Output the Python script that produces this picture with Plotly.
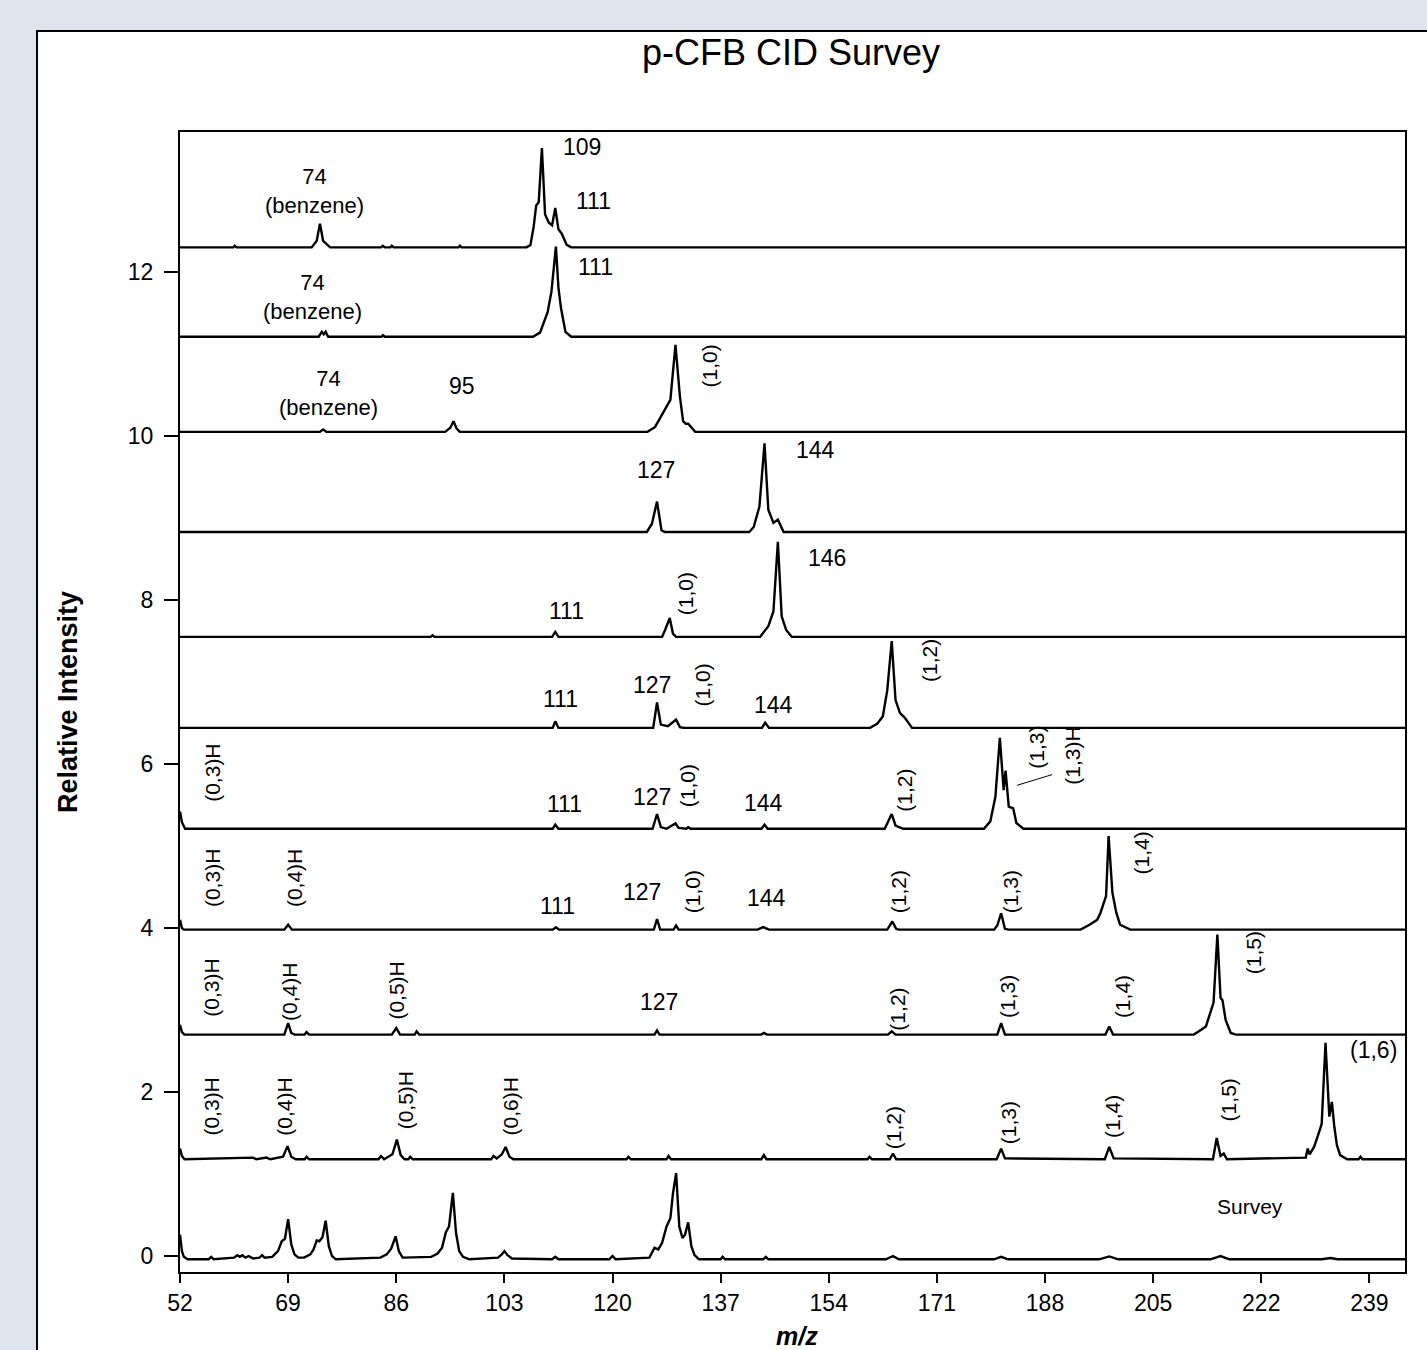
import plotly.graph_objects as go

# ---------------- data ----------------
x_ticks = [52, 69, 86, 103, 120, 137, 154, 171, 188, 205, 222, 239]
y_ticks = [0, 2, 4, 6, 8, 10, 12]

# baseline offset of each stacked spectrum (bottom -> top)
offsets = [-0.04, 1.18, 2.70, 3.98, 5.21, 6.44, 7.55, 8.83, 10.05, 11.21, 12.30]

# (m/z, relative intensity above the spectrum baseline)
survey = [(52.0, 0.30), (52.3, 0.10), (52.6, 0.03), (53.2, 0.0), (56.5, 0.0), (56.9, 0.03), (57.3, 0.0),
          (60.5, 0.02), (61.0, 0.05), (61.4, 0.03), (61.8, 0.05), (62.3, 0.02), (62.8, 0.04), (63.5, 0.01),
          (64.5, 0.02), (64.9, 0.05), (65.3, 0.02), (66.5, 0.03), (67.4, 0.10), (68.0, 0.22), (68.5, 0.25),
          (69.0, 0.49), (69.5, 0.18), (70.0, 0.06), (70.6, 0.02), (71.5, 0.02), (72.5, 0.06), (73.0, 0.12),
          (73.5, 0.23), (73.9, 0.22), (74.4, 0.27), (74.9, 0.47), (75.4, 0.16), (75.9, 0.04), (76.5, 0.0),
          (83.5, 0.02), (84.5, 0.06), (85.2, 0.13), (85.9, 0.28), (86.4, 0.10), (87.0, 0.02), (91.5, 0.03),
          (92.5, 0.07), (93.2, 0.14), (93.8, 0.33), (94.3, 0.40), (94.9, 0.81), (95.4, 0.32), (95.9, 0.10),
          (96.5, 0.03), (97.5, 0.0), (102.0, 0.02), (102.6, 0.06), (103.0, 0.10), (103.5, 0.05), (104.2, 0.01),
          (110.5, 0.0), (111.0, 0.03), (111.5, 0.0), (119.5, 0.0), (120.0, 0.04), (120.5, 0.0), (125.8, 0.02),
          (126.6, 0.14), (127.2, 0.12), (127.8, 0.20), (128.5, 0.40), (129.1, 0.50), (129.5, 0.80),
          (130.0, 1.05), (130.5, 0.40), (131.0, 0.26), (131.4, 0.30), (131.9, 0.45), (132.4, 0.16),
          (132.9, 0.05), (133.6, 0.0), (137.0, 0.0), (137.3, 0.03), (137.7, 0.0), (143.7, 0.0), (144.1, 0.03),
          (144.5, 0.0), (163.0, 0.0), (164.1, 0.04), (165.0, 0.0), (180.0, 0.0), (181.1, 0.03), (182.2, 0.0),
          (196.5, 0.0), (198.1, 0.035), (199.5, 0.0), (214.0, 0.0), (215.6, 0.04), (217.0, 0.0), (231.5, 0.0),
          (232.9, 0.015), (234.0, 0.0), (245.0, 0.0)]

spec_16 = [(52.0, 0.13), (52.3, 0.04), (52.7, 0.0), (63.5, 0.02), (64.0, 0.0), (65.6, 0.02), (66.2, 0.0),
           (68.2, 0.03), (68.9, 0.16), (69.5, 0.03), (70.2, 0.0), (71.6, 0.0), (71.9, 0.03), (72.3, 0.0),
           (83.2, 0.0), (83.6, 0.04), (84.1, 0.0), (85.4, 0.06), (86.1, 0.24), (86.7, 0.05), (87.3, 0.0),
           (87.9, 0.0), (88.2, 0.03), (88.6, 0.0), (100.9, 0.0), (101.3, 0.04), (101.8, 0.01), (102.6, 0.06),
           (103.2, 0.15), (103.8, 0.03), (104.4, 0.0), (122.2, 0.0), (122.5, 0.03), (122.9, 0.0), (128.5, 0.0),
           (128.8, 0.04), (129.2, 0.0), (143.4, 0.0), (143.8, 0.05), (144.2, 0.0), (160.1, 0.0), (160.4, 0.03),
           (160.8, 0.0), (163.6, 0.0), (164.1, 0.07), (164.6, 0.0), (180.4, 0.0), (181.1, 0.13), (181.7, 0.01),
           (197.4, 0.0), (198.1, 0.15), (198.8, 0.01), (214.4, 0.0), (215.0, 0.26), (215.6, 0.04), (216.1, 0.07),
           (216.6, 0.0), (229.0, 0.02), (229.3, 0.13), (229.6, 0.06), (230.3, 0.15), (230.8, 0.25), (231.0, 0.31),
           (231.5, 0.43), (232.1, 1.42), (232.7, 0.52), (233.1, 0.70), (233.5, 0.39), (233.9, 0.17), (234.4, 0.05),
           (235.5, 0.0), (237.3, 0.0), (237.6, 0.03), (237.9, 0.0), (245.0, 0.0)]

spec_15 = [(52.0, 0.12), (52.3, 0.03), (52.7, 0.0), (68.4, 0.0), (69.0, 0.14), (69.5, 0.02), (70.0, 0.0),
           (71.6, 0.0), (71.9, 0.03), (72.3, 0.0), (85.3, 0.0), (86.0, 0.08), (86.6, 0.0), (88.9, 0.0),
           (89.2, 0.04), (89.6, 0.0), (126.6, 0.0), (127.0, 0.05), (127.4, 0.0), (143.4, 0.0), (143.8, 0.02),
           (144.3, 0.0), (163.3, 0.0), (163.9, 0.04), (164.5, 0.0), (180.5, 0.0), (181.1, 0.14), (181.7, 0.0),
           (197.5, 0.0), (198.1, 0.10), (198.7, 0.0), (211.4, 0.0), (212.2, 0.04), (213.3, 0.10), (214.5, 0.39),
           (215.1, 1.22), (215.6, 0.45), (215.9, 0.42), (216.4, 0.18), (217.2, 0.02), (218.0, 0.0), (245.0, 0.0)]

spec_14 = [(52.0, 0.12), (52.3, 0.02), (52.6, 0.0), (68.4, 0.0), (69.0, 0.06), (69.6, 0.0), (110.6, 0.0),
           (111.1, 0.03), (111.6, 0.0), (126.5, 0.0), (127.0, 0.13), (127.5, 0.0), (129.6, 0.0), (130.0, 0.05),
           (130.4, 0.0), (142.8, 0.0), (143.7, 0.03), (144.6, 0.0), (163.2, 0.0), (164.0, 0.10), (164.6, 0.01),
           (165.0, 0.0), (180.0, 0.0), (180.5, 0.05), (181.1, 0.20), (181.7, 0.01), (182.3, 0.0), (193.6, 0.0),
           (195.0, 0.06), (196.2, 0.12), (196.7, 0.20), (197.6, 0.41), (198.0, 1.14), (198.6, 0.45), (199.2, 0.21),
           (199.8, 0.06), (201.4, 0.0), (245.0, 0.0)]

spec_13 = [(52.0, 0.21), (52.3, 0.08), (52.8, 0.0), (110.6, 0.0), (111.0, 0.05), (111.5, 0.0), (126.3, 0.0),
           (127.0, 0.18), (127.6, 0.02), (128.5, 0.0), (129.9, 0.065), (130.4, 0.01), (131.6, 0.0), (131.9, 0.02),
           (132.3, 0.0), (143.4, 0.0), (143.9, 0.05), (144.4, 0.0), (162.8, 0.0), (163.9, 0.18), (164.5, 0.04),
           (165.2, 0.02), (165.7, 0.0), (178.4, 0.0), (179.4, 0.09), (180.2, 0.39), (180.9, 1.11), (181.5, 0.47),
           (181.8, 0.71), (182.3, 0.27), (183.0, 0.25), (183.5, 0.07), (184.6, 0.0), (245.0, 0.0)]

spec_12 = [(52.0, 0.0), (110.6, 0.0), (111.0, 0.08), (111.5, 0.0), (126.4, 0.0), (127.0, 0.31), (127.6, 0.04),
           (128.7, 0.02), (130.0, 0.10), (130.6, 0.01), (131.2, 0.0), (143.5, 0.0), (144.0, 0.065), (144.6, 0.0),
           (160.5, 0.0), (161.6, 0.05), (162.5, 0.14), (163.2, 0.46), (163.9, 1.06), (164.5, 0.34), (165.2, 0.18),
           (165.9, 0.13), (167.1, 0.0), (245.0, 0.0)]

spec_146 = [(52.0, 0.0), (91.4, 0.0), (91.7, 0.02), (92.0, 0.0), (110.5, 0.0), (111.0, 0.06), (111.5, 0.0),
            (127.8, 0.0), (128.3, 0.09), (129.0, 0.23), (129.5, 0.04), (130.0, 0.0), (143.2, 0.0), (144.2, 0.10),
            (144.5, 0.13), (145.3, 0.31), (146.0, 1.16), (146.6, 0.25), (147.3, 0.085), (148.2, 0.0), (245.0, 0.0)]

spec_144 = [(52.0, 0.0), (125.4, 0.0), (126.2, 0.10), (127.0, 0.37), (127.7, 0.02), (128.2, 0.0), (141.5, 0.0),
            (142.2, 0.06), (143.1, 0.31), (143.9, 1.08), (144.5, 0.27), (145.3, 0.11), (146.0, 0.15), (146.9, 0.0),
            (245.0, 0.0)]

spec_10 = [(52.0, 0.0), (74.0, 0.0), (74.5, 0.03), (75.0, 0.0), (93.7, 0.0), (94.5, 0.05), (95.0, 0.13),
           (95.5, 0.04), (96.0, 0.0), (125.5, 0.0), (126.7, 0.06), (128.0, 0.23), (129.1, 0.39), (129.9, 1.06),
           (130.6, 0.43), (131.1, 0.13), (131.5, 0.10), (131.9, 0.10), (133.0, 0.0), (245.0, 0.0)]

spec_111 = [(52.0, 0.0), (73.8, 0.0), (74.3, 0.06), (74.6, 0.03), (74.9, 0.06), (75.3, 0.0), (83.7, 0.0),
            (83.9, 0.02), (84.2, 0.0), (107.5, 0.0), (108.6, 0.05), (109.8, 0.30), (110.4, 0.55), (111.1, 1.10),
            (111.5, 0.60), (111.9, 0.35), (112.6, 0.06), (113.5, 0.0), (245.0, 0.0)]

spec_109 = [(52.0, 0.0), (60.4, 0.0), (60.6, 0.02), (60.9, 0.0), (72.7, 0.0), (73.5, 0.08), (74.0, 0.29),
            (74.5, 0.08), (75.6, 0.0), (83.6, 0.0), (83.9, 0.02), (84.2, 0.0), (85.1, 0.0), (85.3, 0.02),
            (85.6, 0.0), (95.8, 0.0), (96.0, 0.02), (96.3, 0.0), (106.5, 0.0), (107.1, 0.03), (107.6, 0.25),
            (108.0, 0.51), (108.4, 0.55), (108.9, 1.21), (109.4, 0.40), (110.0, 0.30), (110.5, 0.27),
            (111.0, 0.48), (111.5, 0.22), (112.0, 0.17), (112.8, 0.03), (113.5, 0.0), (245.0, 0.0)]

spectra = [survey, spec_16, spec_15, spec_14, spec_13, spec_12, spec_146, spec_144, spec_10, spec_111, spec_109]

# peak labels: (text, m/z, y, rotated)
labels = [
    ("74<br>(benzene)", 73.1, 12.99, False),
    ("109", 115.2, 13.52, False), ("111", 117.0, 12.87, False),
    ("74<br>(benzene)", 72.8, 11.695, False), ("111", 117.3, 12.06, False),
    ("74<br>(benzene)", 75.4, 10.525, False),
    ("95", 96.4, 10.61, False), ("(1,0)", 135.2, 10.85, True),
    ("127", 126.9, 9.59, False), ("144", 151.9, 9.83, False),
    ("111", 112.7, 7.87, False), ("(1,0)", 131.4, 8.07, True), ("146", 153.8, 8.51, False),
    ("111", 111.9, 6.79, False), ("127", 126.2, 6.96, False), ("(1,0)", 134.1, 6.96, True),
    ("144", 145.3, 6.72, False), ("(1,2)", 169.8, 7.26, True),
    ("(0,3)H", 57.0, 5.89, True), ("111", 112.4, 5.51, False), ("127", 126.2, 5.60, False),
    ("(1,0)", 131.7, 5.74, True), ("144", 143.7, 5.52, False), ("(1,2)", 165.9, 5.68, True),
    ("(1,3)", 186.6, 6.20, True), ("(1,3)H", 192.4, 6.10, True),
    ("(0,3)H", 57.2, 4.61, True), ("(0,4)H", 70.1, 4.61, True), ("111", 111.3, 4.27, False),
    ("127", 124.7, 4.44, False), ("(1,0)", 132.7, 4.44, True), ("144", 144.2, 4.37, False),
    ("(1,2)", 165.1, 4.44, True), ("(1,3)", 182.7, 4.44, True), ("(1,4)", 203.1, 4.91, True),
    ("(0,3)H", 57.0, 3.27, True), ("(0,4)H", 69.3, 3.22, True), ("(0,5)H", 86.0, 3.24, True),
    ("127", 127.3, 3.10, False), ("(1,2)", 164.8, 3.01, True), ("(1,3)", 182.2, 3.16, True),
    ("(1,4)", 200.3, 3.16, True), ("(1,5)", 220.8, 3.70, True),
    ("(0,3)H", 57.0, 1.82, True), ("(0,4)H", 68.5, 1.82, True), ("(0,5)H", 87.4, 1.90, True),
    ("(0,6)H", 104.0, 1.82, True), ("(1,2)", 164.1, 1.57, True), ("(1,3)", 182.2, 1.62, True),
    ("(1,4)", 198.6, 1.70, True), ("(1,5)", 216.8, 1.90, True), ("(1,6)", 239.6, 2.51, False),
]
survey_label = ("Survey", 220.3, 0.60)
leader_x = [183.6, 189.1]
leader_y = [5.74, 5.87]

# ---------------- figure ----------------
FONT = "Liberation Sans, Arial, sans-serif"
W, H = 1427, 1350
L, R, T, B = 180, 22, 132, 78
pw, ph = W - L - R, H - T - B


def px_x(p):
    return (p - L) / pw


def px_y(p):
    return (H - B - p) / ph


fig = go.Figure()
for off, spec in zip(offsets, spectra):
    fig.add_trace(go.Scatter(
        x=[p[0] for p in spec], y=[p[1] + off for p in spec],
        mode="lines", line=dict(color="black", width=2.4), hoverinfo="skip", showlegend=False))

annotations = []
for text, mx, my, rot in labels:
    size = 21 if rot else (22 if "<br>" in text else 23)
    annotations.append(dict(x=mx, y=my, xref="x", yref="y", text=text, showarrow=False,
                            textangle=-90 if rot else 0, xanchor="center", yanchor="middle",
                            font=dict(family=FONT, size=size, color="black")))
annotations.append(dict(x=survey_label[1], y=survey_label[2], xref="x", yref="y", text=survey_label[0],
                        showarrow=False, font=dict(family=FONT, size=21, color="black")))
annotations.append(dict(x=px_x(791), y=px_y(52), xref="paper", yref="paper", text="p-CFB CID Survey",
                        showarrow=False, xanchor="center", yanchor="middle",
                        font=dict(family=FONT, size=36, color="black")))
annotations.append(dict(x=px_x(68), y=px_y(702), xref="paper", yref="paper", text="<b>Relative Intensity</b>",
                        showarrow=False, textangle=-90, xanchor="center", yanchor="middle",
                        font=dict(family="Liberation Sans Narrow, Arial Narrow, Liberation Sans", size=27,
                                  color="black")))
annotations.append(dict(x=px_x(797), y=px_y(1320), xref="paper", yref="paper", text="<b><i>m/z</i></b>",
                        showarrow=False, xanchor="center", yanchor="top",
                        font=dict(family=FONT, size=25, color="black")))

shapes = [
    dict(type="rect", xref="paper", yref="paper", x0=px_x(37), x1=px_x(1445), y0=px_y(1365), y1=px_y(31),
         fillcolor="white", line=dict(color="black", width=2), layer="below"),
    dict(type="line", xref="x", yref="y", x0=leader_x[0], x1=leader_x[1], y0=leader_y[0], y1=leader_y[1],
         line=dict(color="black", width=1)),
]

fig.update_layout(
    width=W, height=H, margin=dict(l=L, r=R, t=T, b=B, autoexpand=False),
    paper_bgcolor="#dfe3eb", plot_bgcolor="white",
    annotations=annotations, shapes=shapes, showlegend=False,
    font=dict(family=FONT, color="black"),
)
fig.update_xaxes(range=[52, 244.6], tickvals=x_ticks, ticktext=[str(v) for v in x_ticks],
                 ticks="outside", ticklen=9, tickwidth=2, tickcolor="black",
                 showline=True, linewidth=2, linecolor="black", mirror=True,
                 showgrid=False, zeroline=False, tickfont=dict(family=FONT, size=23, color="black"))
fig.update_yaxes(range=[-0.195, 13.707], tickvals=y_ticks, ticktext=[str(v) for v in y_ticks],
                 ticks="outside", ticklen=14, tickwidth=2, tickcolor="black",
                 showline=True, linewidth=2, linecolor="black", mirror=True,
                 showgrid=False, zeroline=False, tickfont=dict(family=FONT, size=23, color="black"),
                 ticklabelstandoff=6)

fig.write_html("out.html", config={"displayModeBar": False},
               post_script="document.body.style.margin='0px';document.body.style.overflow='hidden';")
